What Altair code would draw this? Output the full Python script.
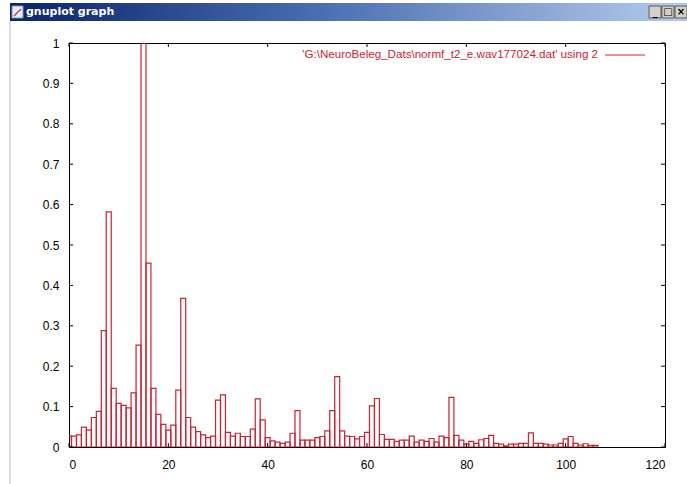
import altair as alt
import pandas as pd

# Normalised spectrum, one value per row (gnuplot "using 2", x = row index)
values = [
    0.027, 0.027, 0.030, 0.049, 0.042, 0.073, 0.088, 0.288, 0.582, 0.145,
    0.108, 0.103, 0.097, 0.134, 0.252, 1.000, 0.455, 0.145, 0.081, 0.056,
    0.042, 0.054, 0.141, 0.368, 0.073, 0.049, 0.038, 0.030, 0.023, 0.027,
    0.116, 0.129, 0.036, 0.027, 0.034, 0.026, 0.026, 0.044, 0.119, 0.067,
    0.023, 0.015, 0.012, 0.009, 0.012, 0.034, 0.090, 0.017, 0.017, 0.017,
    0.023, 0.026, 0.040, 0.090, 0.174, 0.040, 0.027, 0.026, 0.020, 0.026,
    0.036, 0.102, 0.120, 0.031, 0.019, 0.019, 0.014, 0.017, 0.017, 0.027,
    0.012, 0.017, 0.014, 0.021, 0.012, 0.027, 0.023, 0.123, 0.029, 0.017,
    0.007, 0.014, 0.009, 0.018, 0.021, 0.029, 0.009, 0.007, 0.003, 0.007,
    0.007, 0.009, 0.009, 0.035, 0.009, 0.009, 0.007, 0.005, 0.005, 0.009,
    0.020, 0.026, 0.009, 0.005, 0.008, 0.004, 0.004,
]
x_ticks = [0, 20, 40, 60, 80, 100, 120]
y_ticks = [0, 0.1, 0.2, 0.3, 0.4, 0.5, 0.6, 0.7, 0.8, 0.9, 1]
legend_label = "'G:\\NeuroBeleg_Dats\\normf_t2_e.wav177024.dat' using 2"
window_title = ["gnuplot graph"]
window_buttons = ["_", "□", "×"]

RED = "#cc2233"
FONT = "Liberation Sans"
W, H = 596, 404            # plot area
PAD_L, PAD_T = 69, 43

bars = pd.DataFrame({"row": list(range(len(values))), "v": values})
xs = alt.Scale(domain=[0, 120], nice=False, zero=False)
ys = alt.Scale(domain=[0, 1], nice=False)

x_axis = alt.Axis(values=x_ticks, format="d", ticks=False, domain=False, grid=False,
                  labelFont=FONT, labelFontSize=12, labelColor="#000",
                  labelPadding=12, title=None)
y_axis = alt.Axis(values=y_ticks, format="~g", ticks=False, domain=False, grid=False,
                  labelFont=FONT, labelFontSize=12, labelColor="#000",
                  labelPadding=10, title=None)

# boxes of width 1 centred on each row index
boxes = alt.Chart(bars).transform_calculate(
    lo="datum.row - 0.5", hi="datum.row + 0.5"
).mark_rect(fill="#ffffff", fillOpacity=0, stroke=RED, strokeWidth=1.2, clip=True).encode(
    x=alt.X("lo:Q", scale=xs, axis=x_axis),
    x2="hi:Q",
    y=alt.Y("v:Q", scale=ys, axis=y_axis),
    y2=alt.datum(0),
)

# inward tick marks on all four sides
yt = pd.DataFrame({"t": y_ticks})
xt = pd.DataFrame({"t": x_ticks})
tick_style = dict(color="#000", strokeWidth=1)
left_ticks = alt.Chart(yt).mark_rule(**tick_style).encode(
    y=alt.Y("t:Q", scale=ys), x=alt.value(0), x2=alt.value(4))
right_ticks = alt.Chart(yt).mark_rule(**tick_style).encode(
    y=alt.Y("t:Q", scale=ys), x=alt.value(W - 4), x2=alt.value(W))
bottom_ticks = alt.Chart(xt).mark_rule(**tick_style).encode(
    x=alt.X("t:Q", scale=xs), y=alt.value(H - 4), y2=alt.value(H))
top_ticks = alt.Chart(xt).mark_rule(**tick_style).encode(
    x=alt.X("t:Q", scale=xs), y=alt.value(0), y2=alt.value(4))

# key in the top-right corner
key_df = pd.DataFrame({"label": [legend_label]})
key_text = alt.Chart(key_df).mark_text(
    align="right", baseline="middle", font=FONT, fontSize=11.6, color=RED
).encode(text="label:N", x=alt.value(529), y=alt.value(12))
key_line = alt.Chart(key_df).mark_rule(color=RED, strokeWidth=1.2).encode(
    x=alt.value(536), x2=alt.value(576), y=alt.value(12))

# window frame: title bar, caption, buttons, left border
title_df = pd.DataFrame({"title": window_title})
gradient = alt.LinearGradient(
    gradient="linear",
    stops=[alt.GradientStop(color="#0a246a", offset=0),
           alt.GradientStop(color="#4a6cb0", offset=0.45),
           alt.GradientStop(color="#b4cdec", offset=1)],
    x1=0, x2=1, y1=0, y2=0,
)
title_bar = alt.Chart(title_df).mark_rect(fill=gradient).encode(
    x=alt.value(10 - PAD_L), x2=alt.value(687 - PAD_L),
    y=alt.value(3 - PAD_T), y2=alt.value(21 - PAD_T))
icon = alt.Chart(title_df).mark_rect(fill="#e8eef8", stroke="#8090a8", strokeWidth=1).encode(
    x=alt.value(12 - PAD_L), x2=alt.value(23 - PAD_L),
    y=alt.value(6 - PAD_T), y2=alt.value(18 - PAD_T))
icon_mark = alt.Chart(title_df).mark_rule(color="#d04040", strokeWidth=1.5).encode(
    x=alt.value(14 - PAD_L), x2=alt.value(21 - PAD_L),
    y=alt.value(16 - PAD_T), y2=alt.value(9 - PAD_T))
caption = alt.Chart(title_df).mark_text(
    align="left", baseline="middle", font="DejaVu Sans", fontSize=11,
    fontWeight="bold", color="#ffffff"
).encode(text="title:N", x=alt.value(26 - PAD_L), y=alt.value(12 - PAD_T))

# caption buttons, placed in pixels (identity scale)
btn_df = pd.DataFrame({"b": window_buttons, "px": [655 - PAD_L, 668 - PAD_L, 681 - PAD_L]})
buttons = alt.Chart(btn_df).mark_rect(
    fill="#d4d0c8", stroke="#404040", strokeWidth=0.8, width=12, height=12
).encode(x=alt.X("px:Q", scale=None), y=alt.value(12 - PAD_T))
btn_text = alt.Chart(btn_df).mark_text(
    font="DejaVu Sans", fontSize=10, fontWeight="bold", color="#000", baseline="middle"
).encode(x=alt.X("px:Q", scale=None), y=alt.value(12 - PAD_T), text="b:N")

border = alt.Chart(title_df).mark_rule(color="#b8b8b8", strokeWidth=1).encode(
    x=alt.value(10 - PAD_L), y=alt.value(21 - PAD_T), y2=alt.value(484 - PAD_T))

chart = alt.layer(
    boxes, left_ticks, right_ticks, bottom_ticks, top_ticks,
    key_text, key_line,
    border, title_bar, icon, icon_mark, caption, buttons, btn_text,
).properties(
    width=W, height=H,
    padding={"left": PAD_L, "top": PAD_T, "right": 687 - PAD_L - W, "bottom": 484 - PAD_T - H},
    autosize=alt.AutoSizeParams(type="none"),
    background="#ffffff",
).configure_view(stroke="#000000", strokeWidth=1)

chart.save("out.html", embed_options={"renderer": "svg", "actions": False})
